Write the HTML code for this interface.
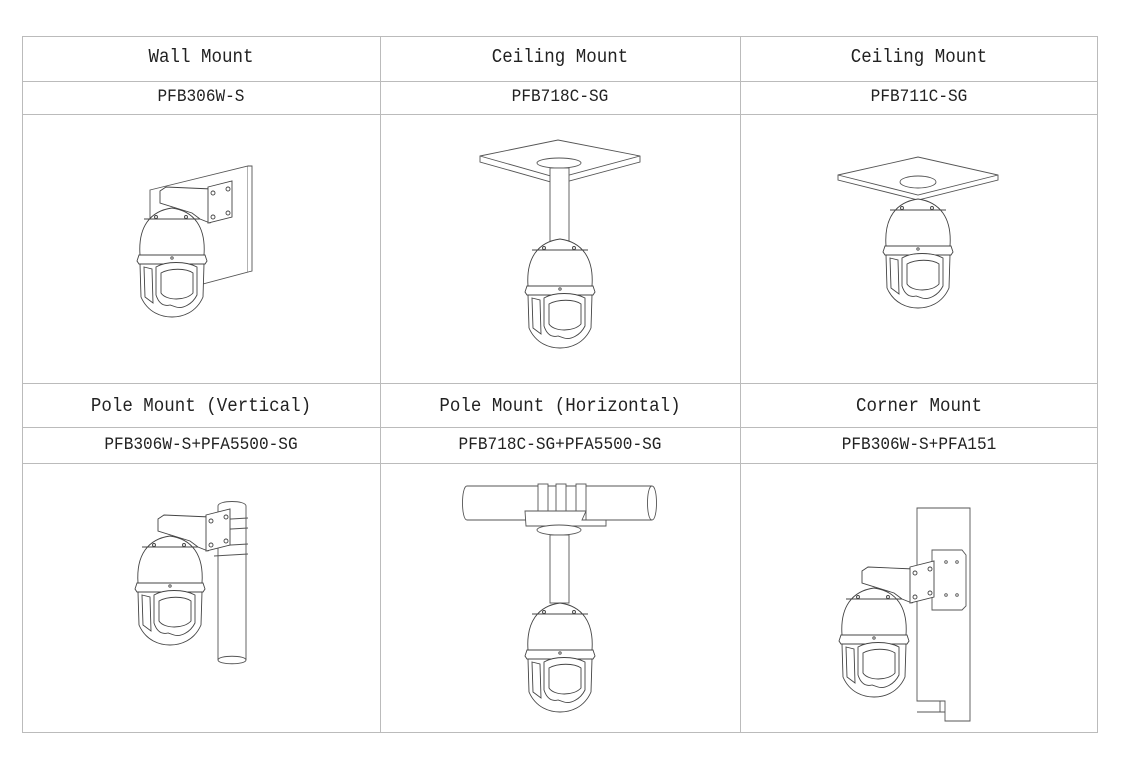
<!DOCTYPE html>
<html><head><meta charset="utf-8"><style>
body{margin:0;background:#fff;width:1128px;height:769px;overflow:hidden;position:relative;font-family:"Liberation Mono",monospace;color:#222}
.t{position:absolute;text-align:center;white-space:nowrap;transform:scaleX(0.92)}
.h{font-size:19px}
.c{font-size:17.5px}
svg{position:absolute;left:0;top:0}
</style></head><body>
<svg width="1128" height="769" viewBox="0 0 1128 769">
<defs>
<g id="cam" fill="#fff" stroke="#444" stroke-width="0.9">
  <path d="M4 50 C2 22 14 6 36 3 C58 6 70 22 68 50 Z"/>
  <path d="M8 14 L64 14" fill="none"/>
  <path d="M3 50 L69 50 L71 56 L69 59 L3 59 L1 56 Z"/>
  <path d="M4 59 L68 59 L67 92 C60 108 46 112 36 112 C26 112 12 108 5 92 Z"/>
  <path d="M20 62 C30 56 50 56 61 62 L61 90 C56 100 46 104 40 102 L34 100 C26 102 22 96 20 90 Z"/>
  <path d="M25 68 C34 63 50 63 57 68 L57 88 C50 96 30 96 25 88 Z"/>
  <path d="M8 62 L16 64 L17 98 L9 92 Z"/>
  <circle cx="20" cy="12" r="1.5"/><circle cx="50" cy="12" r="1.5"/><circle cx="36" cy="53" r="1.2"/>
</g>
<g id="wmount" fill="#fff" stroke="#444" stroke-width="0.9">
  <path d="M24 -14 L24 -2 L56 8 L64 14 L74 18 L80 12 L80 -10 L76 -16 L30 -18 Z"/>
  <path d="M72 -18 L96 -24 L96 12 L72 18 Z"/>
  <circle cx="77" cy="-12" r="2"/><circle cx="92" cy="-16" r="2"/><circle cx="77" cy="12" r="2"/><circle cx="92" cy="8" r="2"/>
</g>
</defs>
<g stroke="#bbb" stroke-width="1" fill="none">
<rect x="22.5" y="36.5" width="1075" height="696"/>
<line x1="380.5" y1="36" x2="380.5" y2="733"/>
<line x1="740.5" y1="36" x2="740.5" y2="733"/>
<line x1="22" y1="81.5" x2="1098" y2="81.5"/>
<line x1="22" y1="114.5" x2="1098" y2="114.5"/>
<line x1="22" y1="383.5" x2="1098" y2="383.5"/>
<line x1="22" y1="427.5" x2="1098" y2="427.5"/>
<line x1="22" y1="463.5" x2="1098" y2="463.5"/>
</g>

<!-- Wall mount -->
<g fill="#fff" stroke="#555" stroke-width="0.9">
<path d="M150 190 L248 166 L248 272 L150 298 Z"/>
<path d="M248 166 L252 166 L252 271 L248 272" />
</g>
<use href="#wmount" transform="translate(136 205)"/>
<use href="#cam" transform="translate(136 205)"/>

<!-- Ceiling 718 -->
<g fill="#fff" stroke="#555" stroke-width="0.9">
<path d="M480 156 L558 140 L640 156 L640 162 L558 184 L480 162 Z"/>
<path d="M480 156 L558 178 L640 156" fill="none"/>
<ellipse cx="559" cy="163" rx="22" ry="5"/>
<rect x="550" y="168" width="19" height="74"/>
</g>
<use href="#cam" transform="translate(524 236)"/>

<!-- Ceiling 711 -->
<g fill="#fff" stroke="#555" stroke-width="0.9">
<path d="M838 175 L918 157 L998 175 L998 180 L918 200 L838 180 Z"/>
<path d="M838 175 L918 195 L998 175" fill="none"/>
<ellipse cx="918" cy="182" rx="18" ry="6"/>
</g>
<use href="#cam" transform="translate(882 196)"/>

<!-- Pole vertical -->
<g fill="#fff" stroke="#555" stroke-width="0.9">
<path d="M218 506 C218 500 246 500 246 506 L246 660 C246 665 218 665 218 660 Z"/>
<path d="M218 660 C218 655 246 655 246 660" fill="none"/>
<path d="M214 520 L248 518 M214 530 L248 528 M214 546 L248 544 M214 556 L248 554" fill="none"/>
</g>
<use href="#wmount" transform="translate(134 533)"/>
<use href="#cam" transform="translate(134 533)"/>

<!-- Pole horizontal -->
<g fill="#fff" stroke="#555" stroke-width="0.9">
<path d="M467 486 L652 486 C658 486 658 520 652 520 L467 520 C461 520 461 486 467 486 Z"/>
<path d="M652 486 C646 486 646 520 652 520" fill="none"/>
<rect x="538" y="484" width="10" height="36"/><rect x="556" y="484" width="10" height="36"/><rect x="576" y="484" width="10" height="36"/>
<path d="M525 511 L586 511 L582 520 L606 520 L606 526 L526 526 Z"/>
<ellipse cx="559" cy="530" rx="22" ry="5"/>
<rect x="550" y="535" width="19" height="68"/>
</g>
<use href="#cam" transform="translate(524 600)"/>

<!-- Corner -->
<g fill="#fff" stroke="#555" stroke-width="0.9">
<path d="M917 508 L970 508 L970 721 L945 721 L945 701 L917 701 Z" />
<path d="M932 550 L962 550 L966 555 L966 606 L962 610 L932 610 Z"/>
<circle cx="946" cy="562" r="1.3"/><circle cx="957" cy="562" r="1.3"/><circle cx="946" cy="595" r="1.3"/><circle cx="957" cy="595" r="1.3"/>
<path d="M940 701 L940 712 M917 712 L945 712" fill="none"/>
</g>
<use href="#wmount" transform="translate(838 585)"/>
<use href="#cam" transform="translate(838 585)"/>
</svg>

<div class="t h" style="left:22px;width:358px;top:46px">Wall Mount</div>
<div class="t h" style="left:380px;width:360px;top:46px">Ceiling Mount</div>
<div class="t h" style="left:740px;width:358px;top:46px">Ceiling Mount</div>
<div class="t c" style="left:22px;width:358px;top:87px">PFB306W-S</div>
<div class="t c" style="left:380px;width:360px;top:87px">PFB718C-SG</div>
<div class="t c" style="left:740px;width:358px;top:87px">PFB711C-SG</div>
<div class="t h" style="left:22px;width:358px;top:395px">Pole Mount (Vertical)</div>
<div class="t h" style="left:380px;width:360px;top:395px">Pole Mount (Horizontal)</div>
<div class="t h" style="left:740px;width:358px;top:395px">Corner Mount</div>
<div class="t c" style="left:22px;width:358px;top:435px">PFB306W-S+PFA5500-SG</div>
<div class="t c" style="left:380px;width:360px;top:435px">PFB718C-SG+PFA5500-SG</div>
<div class="t c" style="left:740px;width:358px;top:435px">PFB306W-S+PFA151</div>
</body></html>
